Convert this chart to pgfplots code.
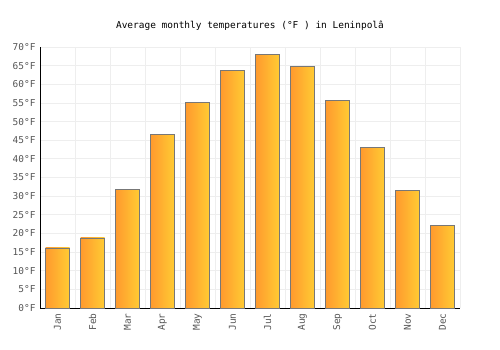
\documentclass[border=0pt]{standalone}
\usepackage{pgfplots}
\pgfplotsset{compat=1.18}
\usepackage{fontspec}
\setmainfont{DejaVu Sans Mono}
\definecolor{barL}{HTML}{FF9A2E}
\definecolor{barR}{HTML}{FFCB33}
\definecolor{gridc}{HTML}{EEEEEE}
\definecolor{tickc}{HTML}{555555}
\definecolor{barD}{HTML}{777777}
\pgfplotsset{mybar/.style={ybar, bar width=24bp, bar shift=0pt, draw=barD, line width=0.8bp, left color=barL, right color=barR, forget plot}}
\begin{document}
\begin{tikzpicture}
\useasboundingbox (-40bp,-42bp) rectangle (460bp,308bp);
\begin{axis}[
  at={(0,0)}, anchor=south west,
  scale only axis, width=420bp, height=261bp,
  xmin=-0.5, xmax=11.5, ymin=0, ymax=70,
  axis lines*=left,
  axis line style={black, line width=0.8bp},
  xtick={0,...,11},
  xticklabels={Jan,Feb,Mar,Apr,May,Jun,Jul,Aug,Sep,Oct,Nov,Dec},
  x tick label style={rotate=90, anchor=east, font=\fontsize{9.5}{11}\selectfont, text=tickc, xshift=-2bp},
  minor xtick={-0.5,0.5,...,11.5},
  xminorgrids, ymajorgrids,
  grid style={gridc, line width=0.8bp},
  minor grid style={gridc, line width=0.8bp},
  ytick={0,5,...,70},
  yticklabel={\pgfmathprintnumber{\tick}°F},
  /pgf/number format/assume math mode=true,
  y tick label style={font=\fontsize{9.5}{11}\selectfont, text=tickc, xshift=-1bp},
  major tick length=0pt, minor tick length=0pt,
  title={Average monthly temperatures (°F ) in Leninpolâ},
  title style={font=\fontsize{9.5}{11}\selectfont, yshift=7bp},
  ybar,
  clip=false,
]
\addplot[mybar] coordinates {(0,16.1)};
\addplot[mybar] coordinates {(1,18.8)};
\addplot[mybar] coordinates {(2,31.9)};
\addplot[mybar] coordinates {(3,46.6)};
\addplot[mybar] coordinates {(4,55.2)};
\addplot[mybar] coordinates {(5,63.7)};
\addplot[mybar] coordinates {(6,68.0)};
\addplot[mybar] coordinates {(7,64.8)};
\addplot[mybar] coordinates {(8,55.7)};
\addplot[mybar] coordinates {(9,43.0)};
\addplot[mybar] coordinates {(10,31.6)};
\addplot[mybar] coordinates {(11,22.1)};
\end{axis}
\end{tikzpicture}
\end{document}
